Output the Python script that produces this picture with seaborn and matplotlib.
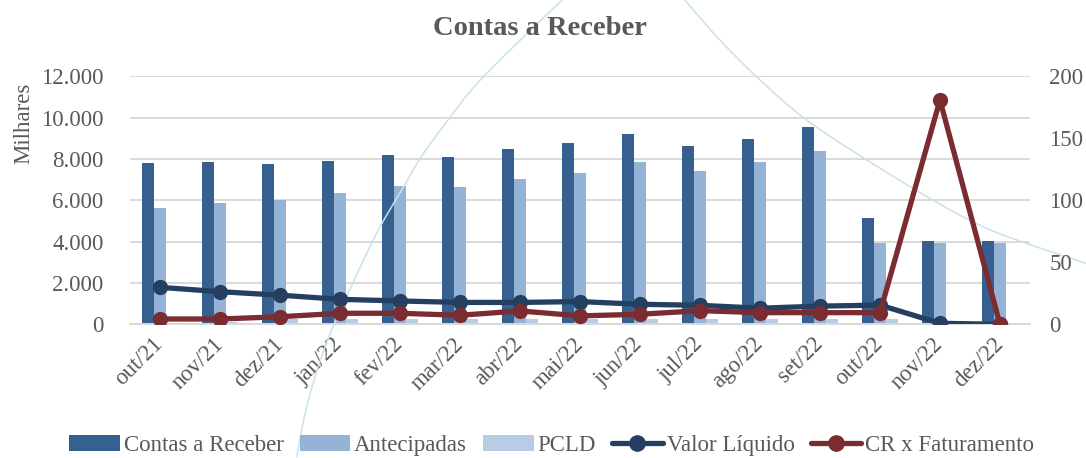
import numpy as np
import pandas as pd
import matplotlib
matplotlib.use('Agg')
import matplotlib.pyplot as plt
import matplotlib.transforms as mtransforms
import seaborn as sns
from matplotlib.patches import Patch
from matplotlib.lines import Line2D

# ===== dados (em milhares) =====
meses = ['out/21', 'nov/21', 'dez/21', 'jan/22', 'fev/22', 'mar/22', 'abr/22', 'mai/22',
         'jun/22', 'jul/22', 'ago/22', 'set/22', 'out/22', 'nov/22', 'dez/22']
contas_receber = [7820, 7860, 7770, 7930, 8210, 8110, 8480, 8800, 9220, 8650, 8980, 9550, 5140, 4010, 4010]
antecipadas = [5640, 5870, 6030, 6370, 6700, 6670, 7050, 7330, 7880, 7420, 7880, 8370, 3930, 3930, 3930]
pcld = [80, 120, 250, 280, 280, 270, 270, 270, 270, 270, 270, 270, 270, 0, 0]
valor_liquido = [1790, 1580, 1410, 1210, 1130, 1060, 1060, 1100, 970, 920, 780, 880, 930, 50, 0]
cr_faturamento = [4.3, 4.3, 6.1, 8.9, 8.9, 7.3, 10.8, 6.8, 8.1, 11.0, 9.4, 9.4, 9.4, 181, 0]

# linha azul clara decorativa que aparece no fundo da imagem (x = posição da categoria, y = eixo esquerdo)
curva_esq_x = [2.28, 2.42, 2.62, 2.84, 3.06, 3.34, 3.67, 4.06, 4.34, 4.80, 5.39, 6.70]
curva_esq_y = [-6410, -4300, -2210, -420, 1020, 2790, 4730, 6660, 8050, 9890, 11990, 15700]
curva_dir_x = [8.75, 9.33, 10.00, 10.78, 11.78, 12.88, 13.71, 14.44, 15.43]
curva_dir_y = [15700, 13770, 11830, 9890, 7960, 6020, 4730, 3920, 2950]

series_barras = ['Contas a Receber', 'Antecipadas', 'PCLD']
cores_barras = ['#36608f', '#95b3d7', '#b8cce4']
cor_liquido = '#243f60'
cor_cr = '#7b2c30'
cinza = '#595959'
fs = 16.5


def suavizar(xs, ys, n=20):
    # catmull-rom só para desenhar a curva sem quinas
    p = np.column_stack([xs, ys]).astype(float)
    p = np.vstack([p[0], p, p[-1]])
    out = []
    t = np.linspace(0, 1, n, endpoint=False)[:, None]
    for i in range(1, len(p) - 2):
        p0, p1, p2, p3 = p[i - 1], p[i], p[i + 1], p[i + 2]
        out.append(0.5 * ((2 * p1) + (-p0 + p2) * t + (2 * p0 - 5 * p1 + 4 * p2 - p3) * t ** 2
                          + (-p0 + 3 * p1 - 3 * p2 + p3) * t ** 3))
    out.append(p[-2][None, :])
    out = np.vstack(out)
    return out[:, 0], out[:, 1]


df = pd.DataFrame({
    'mes': meses * 3,
    'valor': contas_receber + antecipadas + pcld,
    'serie': [s for s in series_barras for _ in meses],
})

sns.set_theme(style='white')
plt.rcParams['font.family'] = ['Liberation Serif', 'DejaVu Serif']

fig = plt.figure(figsize=(10.86, 4.58), dpi=100)
ax = fig.add_axes([0.1197, 0.2919, 0.8287, 0.5411])

sns.barplot(data=df, x='mes', y='valor', hue='serie', palette=cores_barras,
            width=0.59, gap=0, saturation=1, linewidth=0, ax=ax, legend=False, zorder=2)

pos = np.arange(len(meses))
for cx, cy in [(curva_esq_x, curva_esq_y), (curva_dir_x, curva_dir_y)]:
    sx, sy = suavizar(cx, cy)
    ax.plot(sx, sy, color='#c9e1ea', lw=1.1, clip_on=False, zorder=3)

sns.lineplot(x=pos, y=valor_liquido, color=cor_liquido, lw=3.8, marker='o', markersize=11,
             markeredgewidth=0, ax=ax, zorder=5)

ax2 = ax.twinx()
sns.lineplot(x=pos, y=cr_faturamento, color=cor_cr, lw=3.8, marker='o', markersize=11,
             markeredgewidth=0, ax=ax2, zorder=5)

# eixos
ax.set_xlim(-0.5, len(meses) - 0.5)
ax.set_ylim(0, 12000)
ax.set_yticks(np.arange(0, 12001, 2000))
ax.set_yticklabels([f'{v:,.0f}'.replace(',', '.') for v in np.arange(0, 12001, 2000)])
ax2.set_ylim(0, 200)
ax2.set_yticks(np.arange(0, 201, 50))

ax.set_xlabel('')
ax.set_ylabel('')
ax2.set_ylabel('')
ax.yaxis.grid(True, color='#d9d9d9', lw=1.4)
ax.set_axisbelow(True)
for s in ['top', 'left', 'right']:
    ax.spines[s].set_visible(False)
ax.spines['bottom'].set_color('#d9d9d9')
ax.spines['bottom'].set_linewidth(1.4)
for s in ax2.spines.values():
    s.set_visible(False)

ax.set_xticks(pos)
ax.set_xticklabels(meses, rotation=45, ha='right', va='center', rotation_mode='anchor')
desloc = mtransforms.ScaledTranslation(6 / 100, 0, fig.dpi_scale_trans)
for lb in ax.get_xticklabels():
    lb.set_transform(lb.get_transform() + desloc)
ax.set_xticks(np.arange(-0.5, len(meses), 1), minor=True)
ax.tick_params(axis='x', which='major', length=0, pad=12, labelsize=fs, labelcolor=cinza)
ax.tick_params(axis='x', which='minor', length=6, width=1.4, color='#d9d9d9')
ax.tick_params(axis='y', length=0, pad=19, labelsize=fs, labelcolor=cinza)
ax2.tick_params(axis='y', length=0, pad=14, labelsize=fs, labelcolor=cinza)

fig.text(0.022, 0.73, 'Milhares', rotation=90, ha='center', va='center', fontsize=fs, color=cinza)
fig.suptitle('Contas a Receber', x=0.497, y=0.938, va='center', fontsize=20.5, fontweight='bold', color=cinza)

# legenda
handles = [Patch(facecolor=c, edgecolor='none') for c in cores_barras]
handles += [Line2D([], [], color=cor_liquido, lw=3.8, marker='o', markersize=11),
            Line2D([], [], color=cor_cr, lw=3.8, marker='o', markersize=11)]
labels = series_barras + ['Valor Líquido', 'CR x Faturamento']
fig.legend(handles, labels, loc='center', bbox_to_anchor=(0.508, 0.028), ncol=5, frameon=False,
           fontsize=fs, labelcolor=cinza, handlelength=2.2, handleheight=0.7,
           handletextpad=0.18, columnspacing=0.7)

fig.savefig('out.png', dpi=100)
